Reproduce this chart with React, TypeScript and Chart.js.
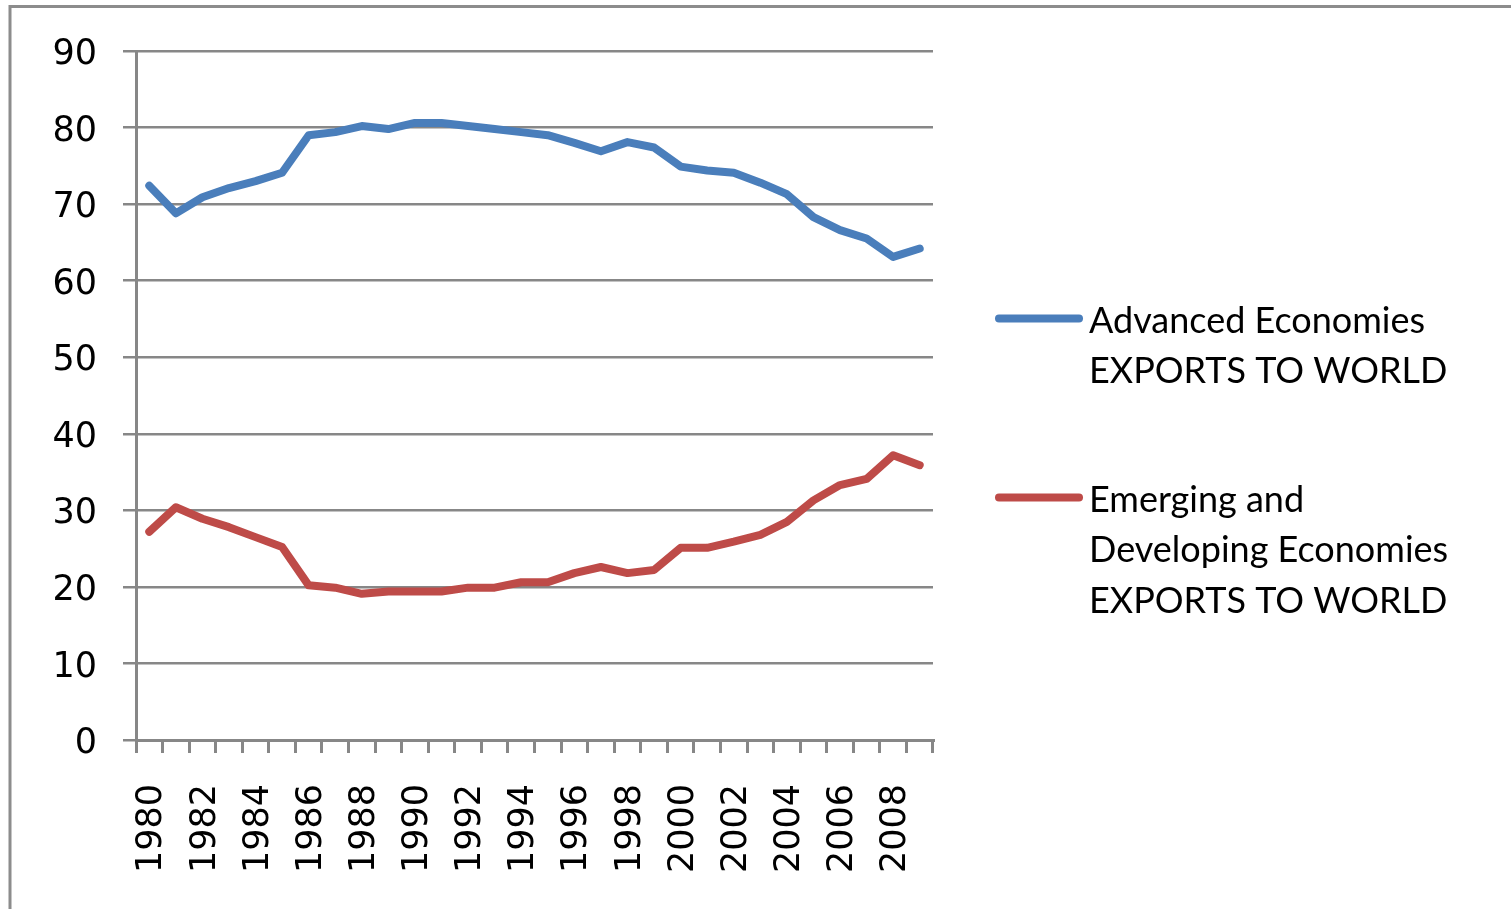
import React, { useEffect, useRef } from "react";
import { Chart, registerables } from "chart.js";

Chart.register(...registerables);

const years = [
  "1980", "1981", "1982", "1983", "1984", "1985", "1986", "1987", "1988", "1989",
  "1990", "1991", "1992", "1993", "1994", "1995", "1996", "1997", "1998", "1999",
  "2000", "2001", "2002", "2003", "2004", "2005", "2006", "2007", "2008", "2009",
];

const advanced = [
  72.4, 68.8, 70.9, 72.1, 73.0, 74.1, 79.0, 79.4, 80.2, 79.8,
  80.6, 80.6, 80.2, 79.8, 79.4, 79.0, 78.0, 76.9, 78.1, 77.4,
  74.9, 74.4, 74.1, 72.8, 71.3, 68.3, 66.6, 65.5, 63.1, 64.2,
];

const emerging = [
  27.2, 30.4, 28.9, 27.8, 26.5, 25.2, 20.2, 19.9, 19.1, 19.4,
  19.4, 19.4, 19.9, 19.9, 20.6, 20.6, 21.8, 22.6, 21.8, 22.2,
  25.1, 25.1, 25.9, 26.8, 28.5, 31.3, 33.3, 34.1, 37.2, 35.9,
];

const advancedLabel = ["Advanced Economies", "EXPORTS TO WORLD"];
const emergingLabel = ["Emerging and", "Developing Economies", "EXPORTS TO WORLD"];

const yMin = 0;
const yMax = 90;
const yStep = 10;

const BLUE = "#4A7EBB";
const RED = "#BE4B48";
const GRID = "#878787";

export default function App() {
  const ref = useRef<HTMLCanvasElement>(null);

  useEffect(() => {
    if (!ref.current) return;

    const framePlugin = {
      id: "frame",
      beforeDraw(chart: any) {
        const ctx = chart.ctx;
        ctx.save();
        ctx.fillStyle = "#ffffff";
        ctx.fillRect(0, 0, chart.width, chart.height);
        ctx.strokeStyle = "#8c8c8c";
        ctx.lineWidth = 3;
        ctx.beginPath();
        ctx.moveTo(10, chart.height + 5);
        ctx.lineTo(10, 6.5);
        ctx.lineTo(chart.width + 5, 6.5);
        ctx.stroke();
        ctx.restore();
      },
    };

    const legendPlugin = {
      id: "customLegend",
      afterDraw(chart: any) {
        const ctx = chart.ctx;
        const entries = [
          { color: BLUE, lines: advancedLabel, y: 318.5 },
          { color: RED, lines: emergingLabel, y: 497.5 },
        ];
        ctx.save();
        ctx.font = "36px Lato";
        ctx.fillStyle = "#000";
        ctx.textAlign = "left";
        ctx.textBaseline = "alphabetic";
        for (const e of entries) {
          ctx.strokeStyle = e.color;
          ctx.lineWidth = 8;
          ctx.lineCap = "round";
          ctx.beginPath();
          ctx.moveTo(999, e.y);
          ctx.lineTo(1079, e.y);
          ctx.stroke();
          e.lines.forEach((t: string, i: number) => {
            ctx.fillText(t, 1089, e.y + 14 + i * 50.5);
          });
        }
        ctx.restore();
      },
    };

    const chart = new Chart(ref.current, {
      type: "line",
      data: {
        labels: years,
        datasets: [
          {
            label: advancedLabel.join(" "),
            data: advanced,
            borderColor: BLUE,
            backgroundColor: BLUE,
          },
          {
            label: emergingLabel.join(" "),
            data: emerging,
            borderColor: RED,
            backgroundColor: RED,
          },
        ],
      },
      options: {
        responsive: false,
        animation: false,
        devicePixelRatio: 1,
        layout: { padding: { top: 51, right: 578, bottom: 0, left: 0 } },
        elements: {
          point: { radius: 0, hoverRadius: 0 },
          line: {
            borderWidth: 8,
            tension: 0,
            borderCapStyle: "round",
            borderJoinStyle: "round",
          },
        },
        plugins: {
          legend: { display: false },
          tooltip: { enabled: false },
        },
        scales: {
          x: {
            offset: true,
            grid: {
              offset: true,
              drawOnChartArea: false,
              drawTicks: true,
              tickLength: 13,
              color: GRID,
              lineWidth: 3,
            },
            border: { color: GRID, width: 3 },
            ticks: {
              autoSkip: false,
              maxRotation: 90,
              minRotation: 90,
              padding: 31,
              labelOffset: 3,
              color: "#000",
              font: { family: "'DejaVu Sans'", size: 35 },
              callback: (_v: any, i: number) => (i % 2 === 0 ? years[i] : ""),
            },
            afterFit: (s: any) => {
              s.height = 169;
            },
          },
          y: {
            min: yMin,
            max: yMax,
            grid: {
              color: GRID,
              lineWidth: 2.5,
              tickLength: 13,
            },
            border: { color: GRID, width: 3 },
            ticks: {
              stepSize: yStep,
              padding: 26,
              labelOffset: 4,
              color: "#000",
              font: { family: "'DejaVu Sans'", size: 35 },
            },
            afterFit: (s: any) => {
              s.width = 136;
            },
          },
        },
      },
      plugins: [framePlugin, legendPlugin],
    } as any);

    return () => chart.destroy();
  }, []);

  return (
    <div
      style={{
        position: "fixed",
        left: 0,
        top: 0,
        width: 1511,
        height: 909,
        background: "#fff",
      }}
    >
      <canvas ref={ref} width={1511} height={909} style={{ display: "block" }} />
    </div>
  );
}
